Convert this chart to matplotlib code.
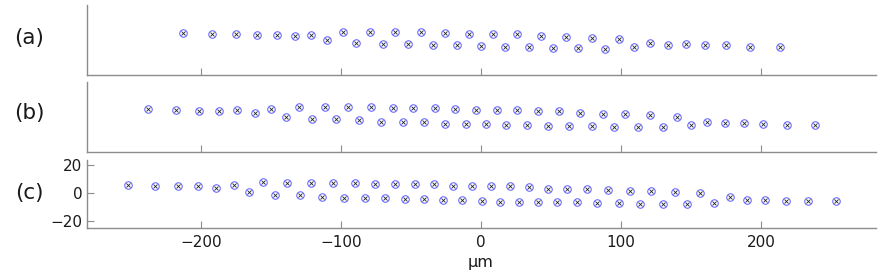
import matplotlib
matplotlib.use("Agg")
import matplotlib.pyplot as plt

plt.rcParams['font.family'] = ['DejaVu Sans']

# Panel (a)
xa = [-212.9, -191.9, -174.8, -160.0, -145.7, -133.1, -121.2, -109.8, -98.6, -89.1,
      -79.3, -70.2, -61.2, -52.1, -43.1, -34.5, -25.7, -17.1, -8.8, -0.2,
      8.4, 16.9, 25.5, 34.1, 42.9, 51.6, 60.5, 69.5, 79.3, 88.4,
      98.4, 109.1, 120.5, 133.4, 146.2, 160.0, 174.8, 191.9, 213.1]
ya = [5.0, 4.1, 4.3, 3.8, 3.8, 3.1, 3.8, -0.2, 5.7, -1.9,
      5.9, -2.6, 5.5, -2.9, 5.5, -3.6, 4.8, -3.8, 4.5, -4.3,
      4.1, -5.0, 4.1, -5.2, 3.1, -5.7, 2.4, -5.7, 1.6, -6.4,
      0.7, -4.8, -1.9, -3.4, -3.1, -3.8, -3.8, -5.0, -5.0]

# Panel (b)
xb = [-238.1, -217.9, -201.6, -187.4, -174.1, -161.6, -149.8, -139.5, -130.0, -120.9,
      -111.6, -103.6, -95.0, -86.9, -78.6, -71.2, -63.1, -55.9, -48.4, -40.7,
      -32.9, -25.7, -18.4, -10.9, -3.6, 3.4, 11.2, 17.9, 25.7, 33.1,
      40.5, 47.9, 55.7, 62.9, 70.9, 79.1, 86.9, 95.0, 103.1, 111.9,
      120.7, 129.8, 139.8, 149.8, 161.4, 174.1, 187.4, 201.6, 218.4, 238.6]
yb = [5.6, 5.4, 4.6, 4.4, 5.4, 3.2, 6.1, 0.1, 7.3, -1.5,
      7.3, -1.5, 7.1, -2.2, 7.1, -3.2, 6.6, -3.4, 6.6, -3.4,
      6.4, -4.6, 5.6, -4.6, 5.4, -5.1, 5.1, -5.4, 4.9, -5.6,
      4.4, -6.5, 4.2, -6.1, 3.2, -6.5, 2.5, -6.8, 2.3, -6.8,
      1.4, -6.8, 0.4, -5.6, -3.2, -3.9, -4.4, -5.1, -5.6, -5.8]

# Panel (c)
xc = [-252.4, -232.9, -216.2, -202.1, -189.1, -176.6, -165.7, -155.7, -147.1, -138.4,
      -129.5, -121.4, -113.4, -105.7, -97.9, -90.0, -82.9, -75.5, -68.6, -61.2,
      -54.5, -47.4, -40.7, -33.8, -26.9, -20.2, -13.4, -6.6, 0.5, 7.1,
      13.6, 20.5, 27.1, 34.1, 40.7, 47.9, 54.5, 61.6, 68.4, 75.7,
      83.1, 90.5, 98.4, 106.4, 113.8, 121.6, 129.8, 138.8, 147.1, 156.4,
      166.6, 177.6, 189.8, 202.9, 217.4, 233.4, 253.4]
yc = [5.9, 5.2, 5.2, 5.2, 3.8, 5.7, 0.9, 7.9, -1.0, 7.4,
      -1.4, 7.1, -2.4, 7.4, -3.1, 7.1, -3.1, 6.9, -3.6, 6.6,
      -4.1, 6.6, -4.3, 6.4, -4.6, 5.4, -5.0, 5.2, -5.3, 5.2,
      -6.0, 5.0, -6.0, 4.3, -6.0, 3.3, -6.0, 3.3, -6.4, 2.9,
      -6.7, 2.1, -6.9, 1.9, -7.4, 1.9, -7.4, 0.9, -7.4, 0.2,
      -6.7, -2.4, -5.0, -4.8, -5.5, -5.7, -5.7]

panel_labels = ['(a)', '(b)', '(c)']
xticks = [-200, -100, 0, 100, 200]
yticks_c = [-20, 0, 20]
xlabel = 'μm'

W, H = 886, 277
fig = plt.figure(figsize=(W / 100, H / 100), dpi=100)

left_px, right_px = 86.7, 876.0
panels = [  # (top_px, bottom_px, ylim)
    (5.0, 74.7, (-24.8, 25.0)),
    (82.3, 152.0, (-24.9, 24.9)),
    (160.0, 228.3, (-25.0, 23.8)),
]
data = [(xa, ya), (xb, yb), (xc, yc)]
label_y = [38.0, 113.5, 193.5]

gray = '#8c8c8c'
for i, ((top, bot, ylim), (xs, ys)) in enumerate(zip(panels, data)):
    ax = fig.add_axes([left_px / W, 1 - bot / H, (right_px - left_px) / W, (bot - top) / H])
    ax.plot(xs, ys, linestyle='none', marker='o', markersize=5.4,
            markerfacecolor='none', markeredgecolor='#5a5aff', markeredgewidth=0.7)
    ax.plot(xs, ys, linestyle='none', marker='x', markersize=3.2,
            color='#222222', markeredgewidth=0.6)
    ax.set_xlim(-281.6, 282.0)
    ax.set_ylim(*ylim)
    for s in ['top', 'right']:
        ax.spines[s].set_visible(False)
    for s in ['left', 'bottom']:
        ax.spines[s].set_color(gray)
        ax.spines[s].set_linewidth(1.0)
    ax.set_xticks(xticks)
    ax.tick_params(axis='both', direction='in', length=5, width=0.8, color=gray,
                   labelsize=11, labelcolor='#1a1a1a')
    ax.tick_params(axis='x', pad=5)
    ax.tick_params(axis='y', pad=3)
    if i < 2:
        ax.set_yticks([])
        ax.tick_params(axis='x', labelbottom=False)
    else:
        ax.set_yticks(yticks_c)
    fig.text(29 / W, 1 - label_y[i] / H, panel_labels[i], fontsize=15.5,
             ha='center', va='center', color='#1a1a1a')

fig.text(481 / W, 1 - 266.5 / H, xlabel, fontsize=11.5, ha='center', va='baseline',
         color='#1a1a1a')

fig.savefig('out.png', dpi=100)
